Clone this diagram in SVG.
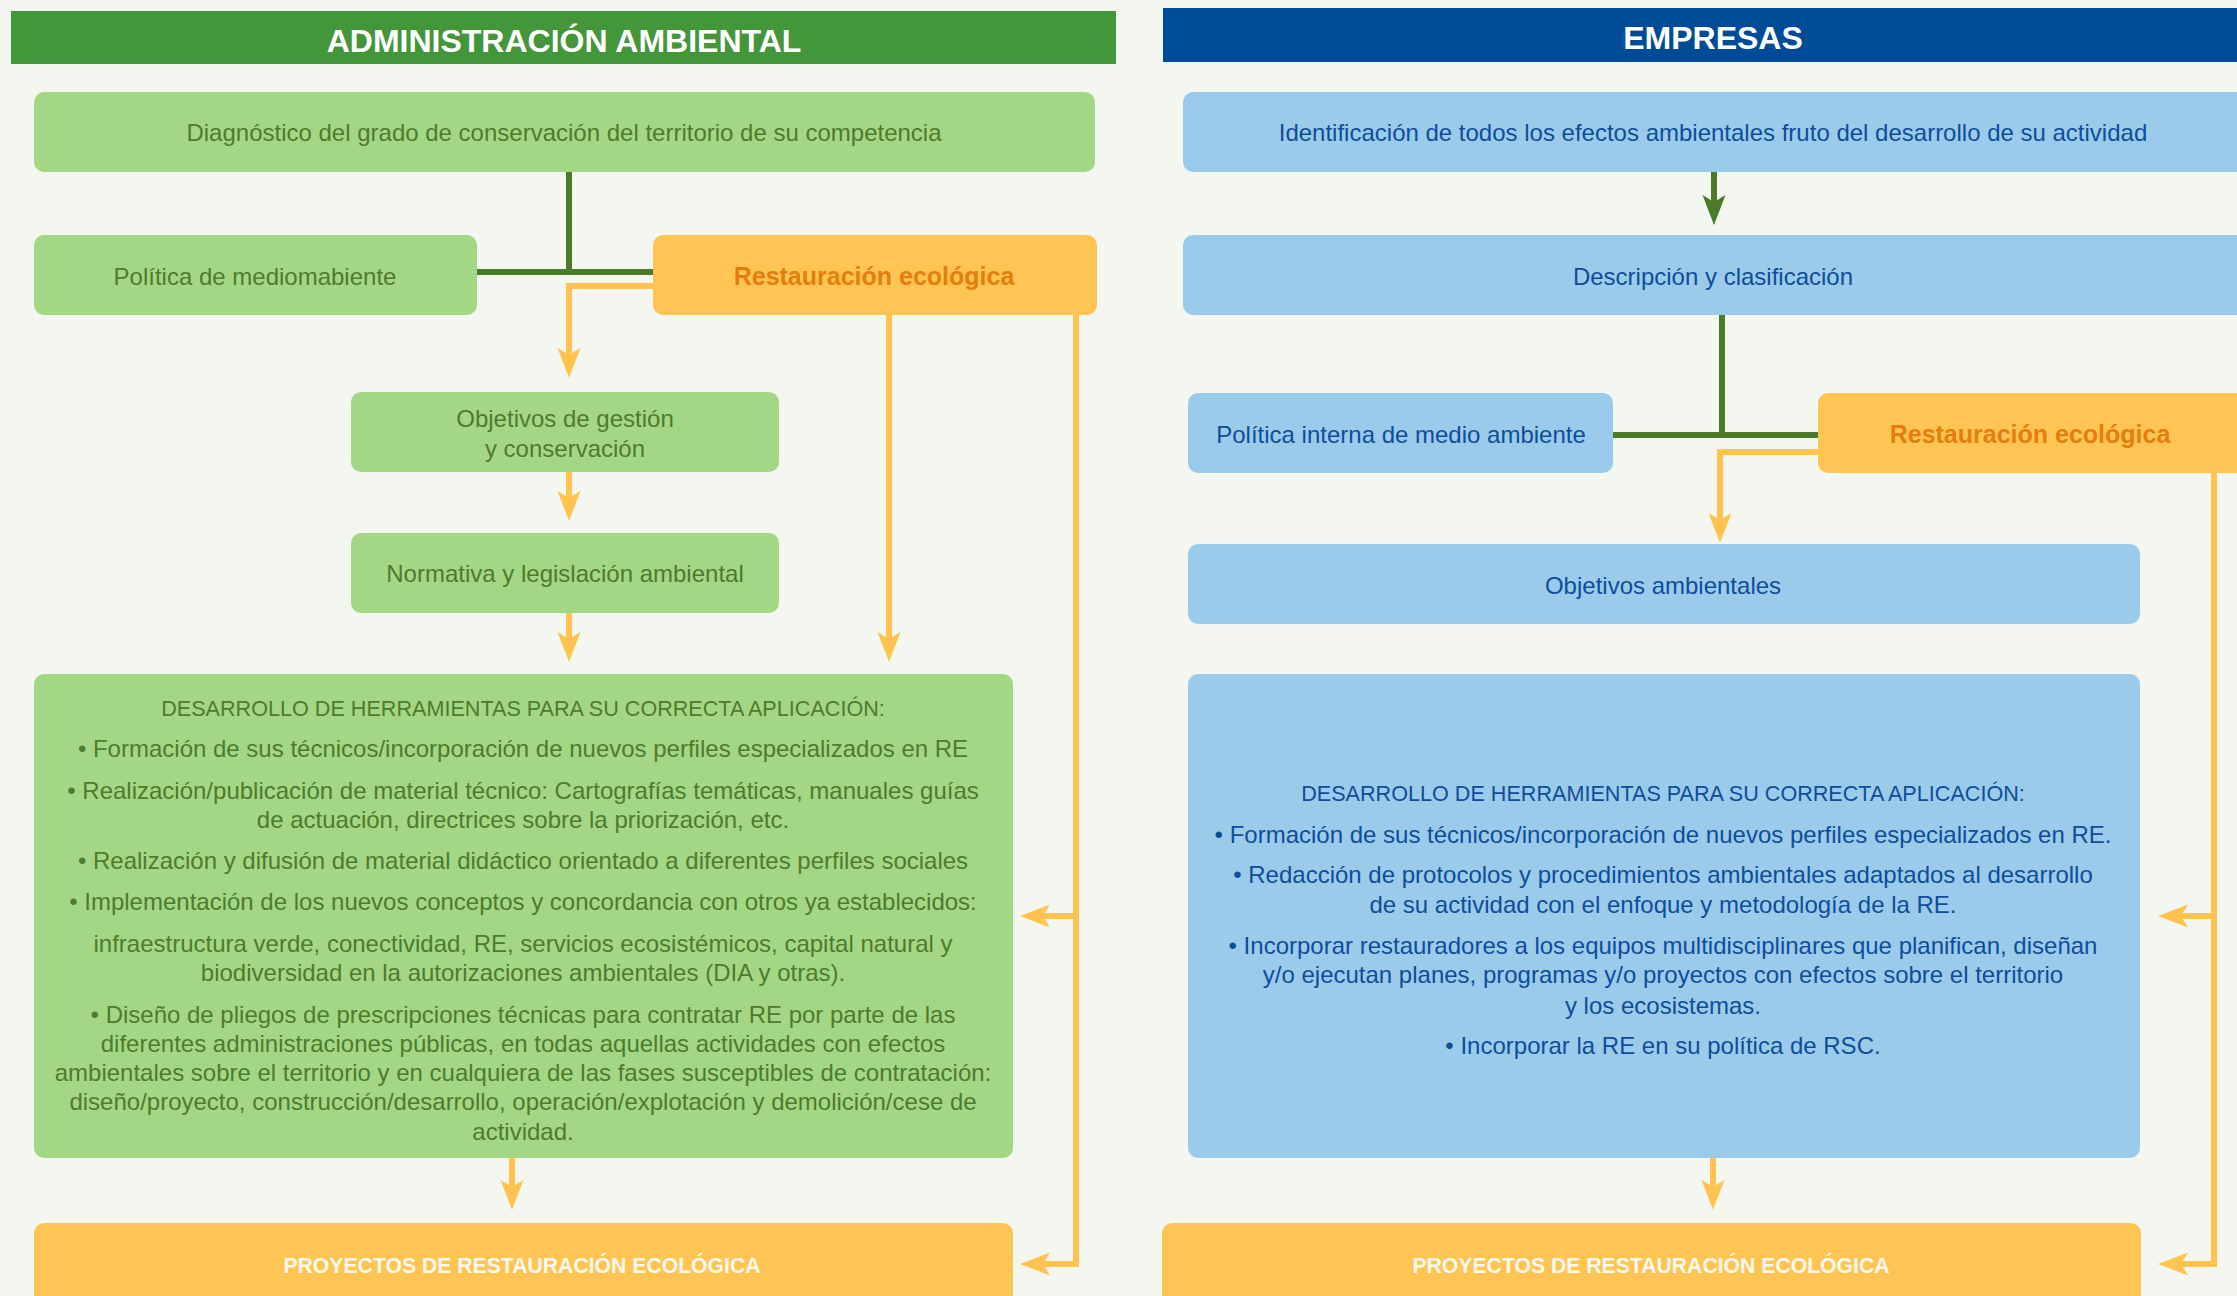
<svg xmlns="http://www.w3.org/2000/svg" width="2237" height="1296" viewBox="0 0 2237 1296">
<style>
text{font-family:"Liberation Sans",Arial,sans-serif;text-anchor:middle}
.g{fill:#A4D785}
.b{fill:#9ACBEB}
.o{fill:#FFC554}
.tg{fill:#4E7B2C;font-size:24px}
.tb{fill:#104D99;font-size:24px}
.cap{font-size:21.6px}
.to{fill:#E57E0C;font-size:25px;font-weight:bold}
.tw{fill:#FFF8EC;font-size:21.2px;font-weight:bold}
.th{fill:#FFFFFF;font-size:32px;font-weight:bold}
.lo{fill:none;stroke:#FFC450;stroke-width:6}
.lg{fill:none;stroke:#4A7A2A;stroke-width:6}
</style>
<defs>
<marker id="ao" viewBox="-8 -12 32 24" markerWidth="32" markerHeight="24" refX="0" refY="0" orient="auto" markerUnits="userSpaceOnUse"><path d="M23,0 L-7,-11.5 L0,0 L-7,11.5 Z" fill="#FFC450"/></marker>
<marker id="ag" viewBox="-8 -12 32 24" markerWidth="32" markerHeight="24" refX="0" refY="0" orient="auto" markerUnits="userSpaceOnUse"><path d="M23,0 L-7,-11.5 L0,0 L-7,11.5 Z" fill="#4A7A2A"/></marker>
</defs>
<rect width="2237" height="1296" fill="#F3F7EF"/>

<g id="header-admin"><rect x="11" y="11" width="1105" height="53" fill="#43963A"/><text class="th" x="564" y="52">ADMINISTRACIÓN AMBIENTAL</text></g>
<g id="header-empresas"><rect x="1163" y="8" width="1080" height="54" fill="#004B98"/><text class="th" x="1713" y="49">EMPRESAS</text></g>

<g id="connectors">
<path class="lg" d="M569,172 V272 M477,272 H653"/>
<path class="lo" d="M653,286 H569 V355" marker-end="url(#ao)"/>
<path class="lo" d="M569,472 V498" marker-end="url(#ao)"/>
<path class="lo" d="M569,613 V639" marker-end="url(#ao)"/>
<path class="lo" d="M889,315 V639" marker-end="url(#ao)"/>
<path class="lo" d="M1076,315 V1264 H1043" marker-end="url(#ao)"/>
<path class="lo" d="M1076,916 H1043" marker-end="url(#ao)"/>
<path class="lo" d="M512,1158 V1187" marker-end="url(#ao)"/>
<path class="lg" d="M1714,172 V202" marker-end="url(#ag)"/>
<path class="lg" d="M1722,315 V435 M1613,435 H1818"/>
<path class="lo" d="M1818,452 H1720 V520" marker-end="url(#ao)"/>
<path class="lo" d="M2214,473 V1264 H2181" marker-end="url(#ao)"/>
<path class="lo" d="M2214,916 H2181" marker-end="url(#ao)"/>
<path class="lo" d="M1713,1158 V1187" marker-end="url(#ao)"/>
</g>

<g id="diagnostico"><rect class="g" x="34" y="92" width="1061" height="80" rx="10"/><text class="tg" x="564" y="141">Diagnóstico del grado de conservación del territorio de su competencia</text></g>
<g id="politica"><rect class="g" x="34" y="235" width="443" height="80" rx="10"/><text class="tg" x="255" y="285">Política de mediomabiente</text></g>
<g id="restauracion-admin"><rect class="o" x="653" y="235" width="444" height="80" rx="10"/><text class="to" x="874" y="285">Restauración ecológica</text></g>
<g id="objetivos-gestion"><rect class="g" x="351" y="392" width="428" height="80" rx="10"/><text class="tg" x="565" y="427">Objetivos de gestión</text><text class="tg" x="565" y="457">y conservación</text></g>
<g id="normativa"><rect class="g" x="351" y="533" width="428" height="80" rx="10"/><text class="tg" x="565" y="582">Normativa y legislación ambiental</text></g>
<g id="herramientas-admin"><rect class="g" x="34" y="674" width="979" height="484" rx="10"/>
<text class="tg cap" x="523" y="716">DESARROLLO DE HERRAMIENTAS PARA SU CORRECTA APLICACIÓN:</text>
<text class="tg"><tspan x="523" y="756.5">• Formación de sus técnicos/incorporación de nuevos perfiles especializados en RE</tspan><tspan x="523" y="798.5">• Realización/publicación de material técnico: Cartografías temáticas, manuales guías</tspan><tspan x="523" y="827.5">de actuación, directrices sobre la priorización, etc.</tspan><tspan x="523" y="868.5">• Realización y difusión de material didáctico orientado a diferentes perfiles sociales</tspan><tspan x="523" y="909.5">• Implementación de los nuevos conceptos y concordancia con otros ya establecidos:</tspan><tspan x="523" y="951.5">infraestructura verde, conectividad, RE, servicios ecosistémicos, capital natural y</tspan><tspan x="523" y="980.5">biodiversidad en la autorizaciones ambientales (DIA y otras).</tspan><tspan x="523" y="1022.5">• Diseño de pliegos de prescripciones técnicas para contratar RE por parte de las</tspan><tspan x="523" y="1051.5">diferentes administraciones públicas, en todas aquellas actividades con efectos</tspan><tspan x="523" y="1080.5">ambientales sobre el territorio y en cualquiera de las fases susceptibles de contratación:</tspan><tspan x="523" y="1109.5">diseño/proyecto, construcción/desarrollo, operación/explotación y demolición/cese de</tspan><tspan x="523" y="1139.5">actividad.</tspan></text></g>
<g id="proyectos-admin"><rect class="o" x="34" y="1223" width="979" height="100" rx="10"/><text class="tw" x="522" y="1273">PROYECTOS DE RESTAURACIÓN ECOLÓGICA</text></g>

<g id="identificacion"><rect class="b" x="1183" y="92" width="1070" height="80" rx="10"/><text class="tb" x="1713" y="141">Identificación de todos los efectos ambientales fruto del desarrollo de su actividad</text></g>
<g id="descripcion"><rect class="b" x="1183" y="235" width="1070" height="80" rx="10"/><text class="tb" x="1713" y="285">Descripción y clasificación</text></g>
<g id="politica-interna"><rect class="b" x="1188" y="393" width="425" height="80" rx="10"/><text class="tb" x="1401" y="443">Política interna de medio ambiente</text></g>
<g id="restauracion-empresas"><rect class="o" x="1818" y="393" width="430" height="80" rx="10"/><text class="to" x="2030" y="443">Restauración ecológica</text></g>
<g id="objetivos-ambientales"><rect class="b" x="1188" y="544" width="952" height="80" rx="10"/><text class="tb" x="1663" y="594">Objetivos ambientales</text></g>
<g id="herramientas-empresas"><rect class="b" x="1188" y="674" width="952" height="484" rx="10"/>
<text class="tb cap" x="1663" y="800.5">DESARROLLO DE HERRAMIENTAS PARA SU CORRECTA APLICACIÓN:</text>
<text class="tb"><tspan x="1663" y="842.5">• Formación de sus técnicos/incorporación de nuevos perfiles especializados en RE.</tspan><tspan x="1663" y="882.5">• Redacción de protocolos y procedimientos ambientales adaptados al desarrollo</tspan><tspan x="1663" y="912.5">de su actividad con el enfoque y metodología de la RE.</tspan><tspan x="1663" y="953.5">• Incorporar restauradores a los equipos multidisciplinares que planifican, diseñan</tspan><tspan x="1663" y="982.5">y/o ejecutan planes, programas y/o proyectos con efectos sobre el territorio</tspan><tspan x="1663" y="1013.5">y los ecosistemas.</tspan><tspan x="1663" y="1053.5">• Incorporar la RE en su política de RSC.</tspan></text></g>
<g id="proyectos-empresas"><rect class="o" x="1162" y="1223" width="979" height="100" rx="10"/><text class="tw" x="1651" y="1273">PROYECTOS DE RESTAURACIÓN ECOLÓGICA</text></g>
</svg>
